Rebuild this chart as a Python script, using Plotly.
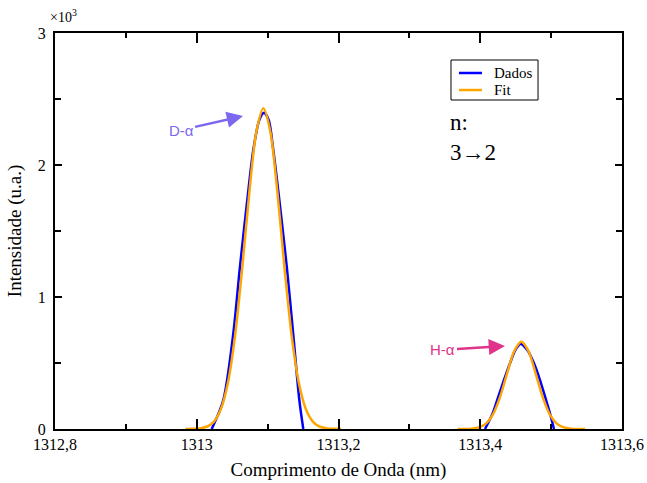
import plotly.graph_objects as go

# ---- data ----
dados_d_x = [1313.0211, 1313.0375, 1313.0516, 1313.0610, 1313.0713, 1313.0798, 1313.0883,
             1313.0949, 1313.1015, 1313.1080, 1313.1165, 1313.1270, 1313.1360, 1313.1447, 1313.1503]
dados_d_y = [0, 220, 725, 1230, 1735, 2114, 2341, 2396, 2341, 2114, 1735, 1230, 725, 220, 0]

dados_h_x = [1313.4067, 1313.4176, 1313.4255, 1313.4335, 1313.4420, 1313.4495, 1313.4570,
             1313.4664, 1313.4758, 1313.4843, 1313.4914, 1313.4984, 1313.5040]
dados_h_y = [0, 119, 245, 371, 498, 598, 644, 598, 498, 371, 245, 119, 0]

fit_d_x = [1312.984, 1312.994, 1313.004, 1313.014, 1313.024, 1313.034, 1313.044, 1313.054,
           1313.064, 1313.074, 1313.084, 1313.094, 1313.104, 1313.114, 1313.124, 1313.134,
           1313.144, 1313.154, 1313.164, 1313.174, 1313.184, 1313.194, 1313.204]
fit_d_y = [0.2, 1.0, 4.6, 17, 54.5, 149, 350, 703, 1210, 1782, 2249, 2430,
           2249, 1782, 1210, 703, 350, 149, 54.5, 17, 4.6, 1.0, 0.2]

fit_h_x = [1313.368, 1313.378, 1313.388, 1313.398, 1313.408, 1313.418, 1313.428, 1313.438,
           1313.448, 1313.458, 1313.468, 1313.478, 1313.488, 1313.498, 1313.508, 1313.518,
           1313.528, 1313.538, 1313.548]
fit_h_y = [0.1, 0.5, 2.8, 12, 41, 111, 243, 424, 591, 661, 591, 424, 243, 111, 41, 12, 2.8, 0.5, 0.1]

x_tickvals = [1312.8, 1313.0, 1313.2, 1313.4, 1313.6]
x_ticktext = ["1312,8", "1313", "1313,2", "1313,4", "1313,6"]
y_tickvals = [0, 1000, 2000, 3000]
y_ticktext = ["0", "1", "2", "3"]
series_names = ["Dados", "Fit"]

blue = "#0000FF"
orange = "#FFA500"
serif = "Liberation Serif, Times New Roman, serif"
sans = "Liberation Sans, Arial, sans-serif"

fig = go.Figure()
fig.add_trace(go.Scatter(
    x=dados_d_x + [None] + dados_h_x, y=dados_d_y + [None] + dados_h_y,
    mode="lines", name=series_names[0],
    line=dict(color=blue, width=2.5, shape="spline", smoothing=0.8), connectgaps=False))
fig.add_trace(go.Scatter(
    x=fit_d_x + [None] + fit_h_x, y=fit_d_y + [None] + fit_h_y,
    mode="lines", name=series_names[1],
    line=dict(color=orange, width=2.5, shape="spline", smoothing=0.8), connectgaps=False))

axis_common = dict(showline=True, linecolor="black", linewidth=2, mirror="allticks",
                   ticks="inside", tickcolor="black", tickwidth=2, showgrid=False, zeroline=False,
                   automargin=False,
                   tickfont=dict(family=serif, size=16, color="black"))

fig.update_xaxes(range=[1312.8, 1313.6], tickmode="array", tickvals=x_tickvals, ticktext=x_ticktext,
                 ticklen=10,
                 minor=dict(dtick=0.1, tick0=1312.8, ticks="inside", ticklen=5, tickwidth=2, tickcolor="black"),
                 title=dict(text="Comprimento de Onda (nm)", font=dict(family=serif, size=19, color="black"),
                            standoff=10),
                 **axis_common)
fig.update_yaxes(range=[0, 3000], tickmode="array", tickvals=y_tickvals, ticktext=y_ticktext,
                 ticklen=7, ticklabelstandoff=4,
                 minor=dict(dtick=500, tick0=0, ticks="inside", ticklen=6, tickwidth=2, tickcolor="black"),
                 title=dict(text="Intensidade (u.a.)", font=dict(family=serif, size=19, color="black"),
                            standoff=11),
                 **axis_common)

# legend box drawn manually (paper coordinates)
lx0, lx1, ly0, ly1 = 0.6984, 0.8519, 0.8308, 0.9318
shapes = [
    dict(type="rect", xref="paper", yref="paper", x0=lx0, x1=lx1, y0=ly0, y1=ly1,
         line=dict(color="black", width=1), fillcolor="white", layer="above"),
    dict(type="line", xref="paper", yref="paper", x0=0.7125, x1=0.753, y0=0.899, y1=0.899,
         line=dict(color=blue, width=2.5), layer="above"),
    dict(type="line", xref="paper", yref="paper", x0=0.7125, x1=0.753, y0=0.856, y1=0.856,
         line=dict(color=orange, width=2.5), layer="above"),
]

fig.update_layout(
    width=647, height=483,
    margin=dict(l=55, r=25, t=33, b=54),
    plot_bgcolor="white", paper_bgcolor="white",
    showlegend=False,
    shapes=shapes,
    annotations=[
        dict(text=series_names[0], xref="paper", yref="paper", x=0.771, y=0.899,
             xanchor="left", yanchor="middle", showarrow=False,
             font=dict(family=serif, size=15, color="black")),
        dict(text=series_names[1], xref="paper", yref="paper", x=0.771, y=0.856,
             xanchor="left", yanchor="middle", showarrow=False,
             font=dict(family=serif, size=15, color="black")),
        dict(text="×10<sup>3</sup>", xref="paper", yref="paper", x=-0.012, y=1.0,
             xanchor="left", yanchor="bottom", showarrow=False, yshift=6,
             font=dict(family=serif, size=14, color="black")),
        dict(text="n:<br>3→2", xref="paper", yref="paper", x=0.694, y=0.735,
             xanchor="left", yanchor="middle", align="left", showarrow=False,
             font=dict(family=serif, size=23, color="black")),
        dict(text="D-α", x=1313.0653, y=2371, xref="x", yref="y", ax=-62, ay=14,
             showarrow=True, arrowhead=2, arrowsize=1.3, arrowwidth=2.5, arrowcolor="#7B68EE",
             font=dict(family=sans, size=15, color="#7B68EE")),
        dict(text="H-α", x=1313.4349, y=629, xref="x", yref="y", ax=-62, ay=4,
             showarrow=True, arrowhead=2, arrowsize=1.3, arrowwidth=2.5, arrowcolor="#E0338A",
             font=dict(family=sans, size=15, color="#E0338A")),
    ],
)

# remove the browser's default 8px body margin so the figure fills the window exactly
fig.write_html("out.html", config={"displayModeBar": False},
               post_script="document.body.style.margin='0';")
